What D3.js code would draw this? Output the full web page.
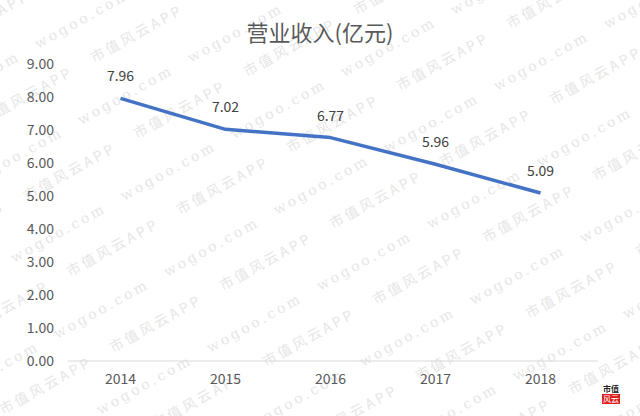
<!DOCTYPE html>
<html><head><meta charset="utf-8">
<script src="https://cdn.jsdelivr.net/npm/d3@7"></script>
<style>body{margin:0;background:#fff;}svg{display:block;}</style>
</head><body>
<script>
const years = ["2014","2015","2016","2017","2018"];
const revenue = [7.96, 7.02, 6.77, 5.96, 5.09];
const yTicks = [0,1,2,3,4,5,6,7,8,9];
const title = "营业收入(亿元)";
const watermarks = ["wogoo.com", "市值风云APP"];

const W = 640, H = 416;
const font = "'Noto Sans CJK SC','Noto Sans',sans-serif";
const svg = d3.select("body").append("svg").attr("width", W).attr("height", H);

// faint tiled watermark
const wm = svg.append("g").attr("fill", "#e6e6e6").attr("font-size", 14).attr("letter-spacing", 3);
const ax = 110, ay = -62, cx = -43, cy = -76, bx = 97;
for (let i = -8; i <= 8; i++) {
  for (let j = -8; j <= 8; j++) {
    const px = 210 + i * ax + j * cx, py = 353 + i * ay + j * cy;
    [[px, py, 0], [px - bx, py, 1]].forEach(([tx, ty, k]) => {
      if (tx < -120 || tx > W + 10 || ty < -10 || ty > H + 70) return;
      wm.append("text").attr("transform", `translate(${tx},${ty}) rotate(-29)`)
        .attr("font-family", k ? "'Noto Sans CJK SC',sans-serif" : "'DejaVu Serif',serif")
        .text(watermarks[k]);
    });
  }
}

const x = d3.scaleBand().domain(years).range([68, 593]);
const y = d3.scaleLinear().domain([0, 9]).range([361, 64]);

svg.append("text").attr("x", 320).attr("y", 41).attr("text-anchor", "middle")
  .attr("font-family", font).attr("font-size", 22).attr("fill", "#595959").text(title);

const yAxis = svg.append("g").attr("transform", "translate(68,0)")
  .call(d3.axisLeft(y).tickValues(yTicks).tickFormat(d3.format(".2f")).tickSize(0).tickPadding(14));
yAxis.select(".domain").remove();
yAxis.selectAll("text").attr("font-family", font).attr("font-size", 14).attr("fill", "#595959");

const xAxis = svg.append("g").attr("transform", "translate(0,361)")
  .call(d3.axisBottom(x).tickSize(0).tickPadding(13));
xAxis.select(".domain").attr("stroke", "#d9d9d9").attr("stroke-width", 1).attr("d", "M68,0H598");
xAxis.selectAll("text").attr("font-family", font).attr("font-size", 14).attr("fill", "#595959");

const line = d3.line().x((d, i) => x(years[i]) + x.bandwidth() / 2).y(d => y(d));
svg.append("path").datum(revenue).attr("d", line).attr("fill", "none")
  .attr("stroke", "#4472c4").attr("stroke-width", 3.5).attr("stroke-linejoin", "round");

svg.append("g").selectAll("text").data(revenue).join("text")
  .attr("x", (d, i) => x(years[i]) + x.bandwidth() / 2)
  .attr("y", d => y(d) - 17)
  .attr("text-anchor", "middle").attr("font-family", font).attr("font-size", 14).attr("fill", "#404040")
  .text(d => d.toFixed(2));

// logo
const logo = svg.append("g").attr("transform", "translate(611,392)");
logo.append("text").attr("x", 0).attr("y", 0).attr("text-anchor", "middle")
  .attr("font-family", font).attr("font-size", 8).attr("font-weight", "bold").attr("fill", "#222").text("市值");
logo.append("rect").attr("x", -9).attr("y", 2).attr("width", 18).attr("height", 10).attr("fill", "#e02020");
logo.append("text").attr("x", 0).attr("y", 10).attr("text-anchor", "middle")
  .attr("font-family", font).attr("font-size", 8).attr("fill", "#fff").text("风云");
</script>
</body></html>
